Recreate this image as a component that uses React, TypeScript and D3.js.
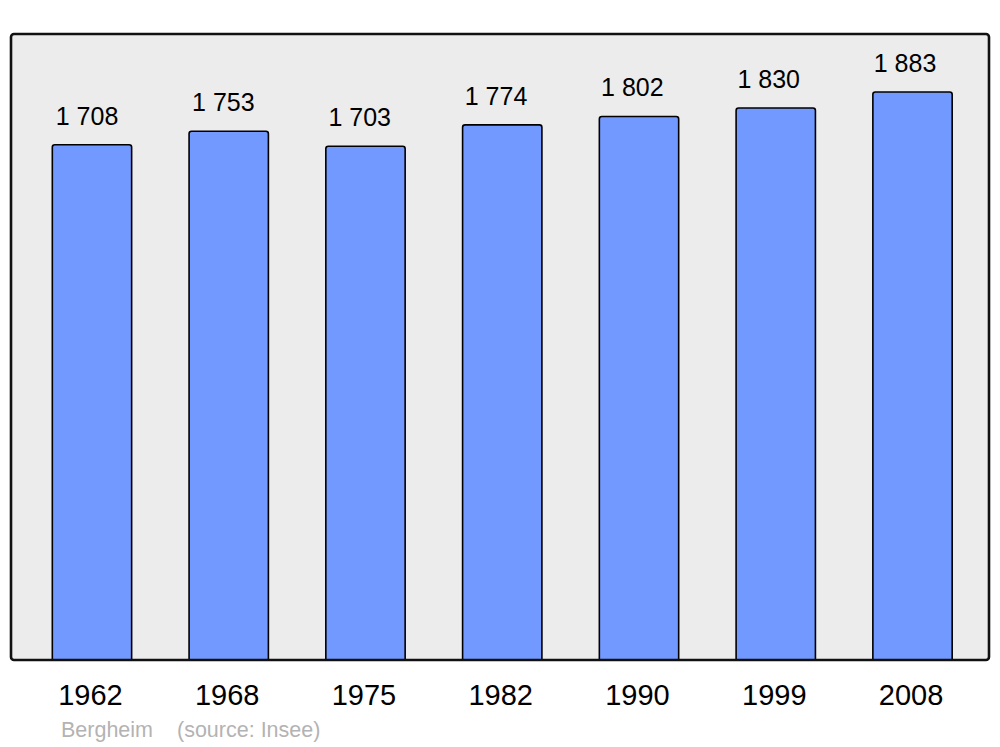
import React from 'react';
import * as d3 from 'd3';

// Population data (Bergheim, source: Insee)
const years = ['1962', '1968', '1975', '1982', '1990', '1999', '2008'];
const population = [1708, 1753, 1703, 1774, 1802, 1830, 1883];
const commune = 'Bergheim';
const source = '(source: Insee)';

const App = () => {
  const width = 1000;
  const height = 747;

  // Panel box
  const panel = { x: 11, y: 34, w: 978, h: 626 };
  const baseY = panel.y + panel.h;

  const xScale = d3
    .scaleBand()
    .domain(years)
    .range([23.6, 980.9])
    .paddingInner(0.42)
    .paddingOuter(0.21);

  // value labels sit a little left of the bar centres
  const labelScale = d3.scalePoint().domain(years).range([87, 905]);

  const yScale = d3
    .scaleLinear()
    .domain([0, 1883])
    .range([baseY, 92]);

  const font = '"Liberation Sans", Arial, sans-serif';
  const fmt = (v: number) => d3.format(',')(v).replace(',', ' ');

  // bar path with slightly rounded top corners
  const barPath = (x: number, y: number, w: number, h: number) => {
    const r = 2.5;
    return `M${x},${y + h} V${y + r} Q${x},${y} ${x + r},${y} H${x + w - r} Q${x + w},${y} ${x + w},${y + r} V${y + h}`;
  };

  return (
    <svg width={width} height={height} style={{ display: 'block', position: 'absolute', left: 0, top: 0 }}>
      <rect x={0} y={0} width={width} height={height} fill="#ffffff" />
      <rect
        x={panel.x}
        y={panel.y}
        width={panel.w}
        height={panel.h}
        rx={3}
        fill="#ececec"
        stroke="none"
      />
      {years.map((yr, i) => {
        const x = xScale(yr) as number;
        const y = yScale(population[i]);
        const w = xScale.bandwidth();
        return (
          <g key={yr}>
            <path
              d={barPath(x, y, w, baseY - y)}
              fill="#7299ff"
              stroke="#000"
              strokeWidth={1.6}
            />
            <text
              x={labelScale(yr)}
              y={y - 20}
              textAnchor="middle"
              fontFamily={font}
              fontSize={25}
              fill="#000"
            >
              {fmt(population[i])}
            </text>
            <text
              x={x + w / 2 - 1.5}
              y={705}
              textAnchor="middle"
              fontFamily={font}
              fontSize={29}
              fill="#000"
            >
              {yr}
            </text>
          </g>
        );
      })}
      <rect
        x={panel.x}
        y={panel.y}
        width={panel.w}
        height={panel.h}
        rx={3}
        fill="none"
        stroke="#111"
        strokeWidth={2.6}
      />
      <text x={61} y={737} fontFamily={font} fontSize={21.5} fill="#b3b3b3">
        {commune}
      </text>
      <text x={177} y={737} fontFamily={font} fontSize={21.5} fill="#b3b3b3">
        {source}
      </text>
    </svg>
  );
};

export default App;
